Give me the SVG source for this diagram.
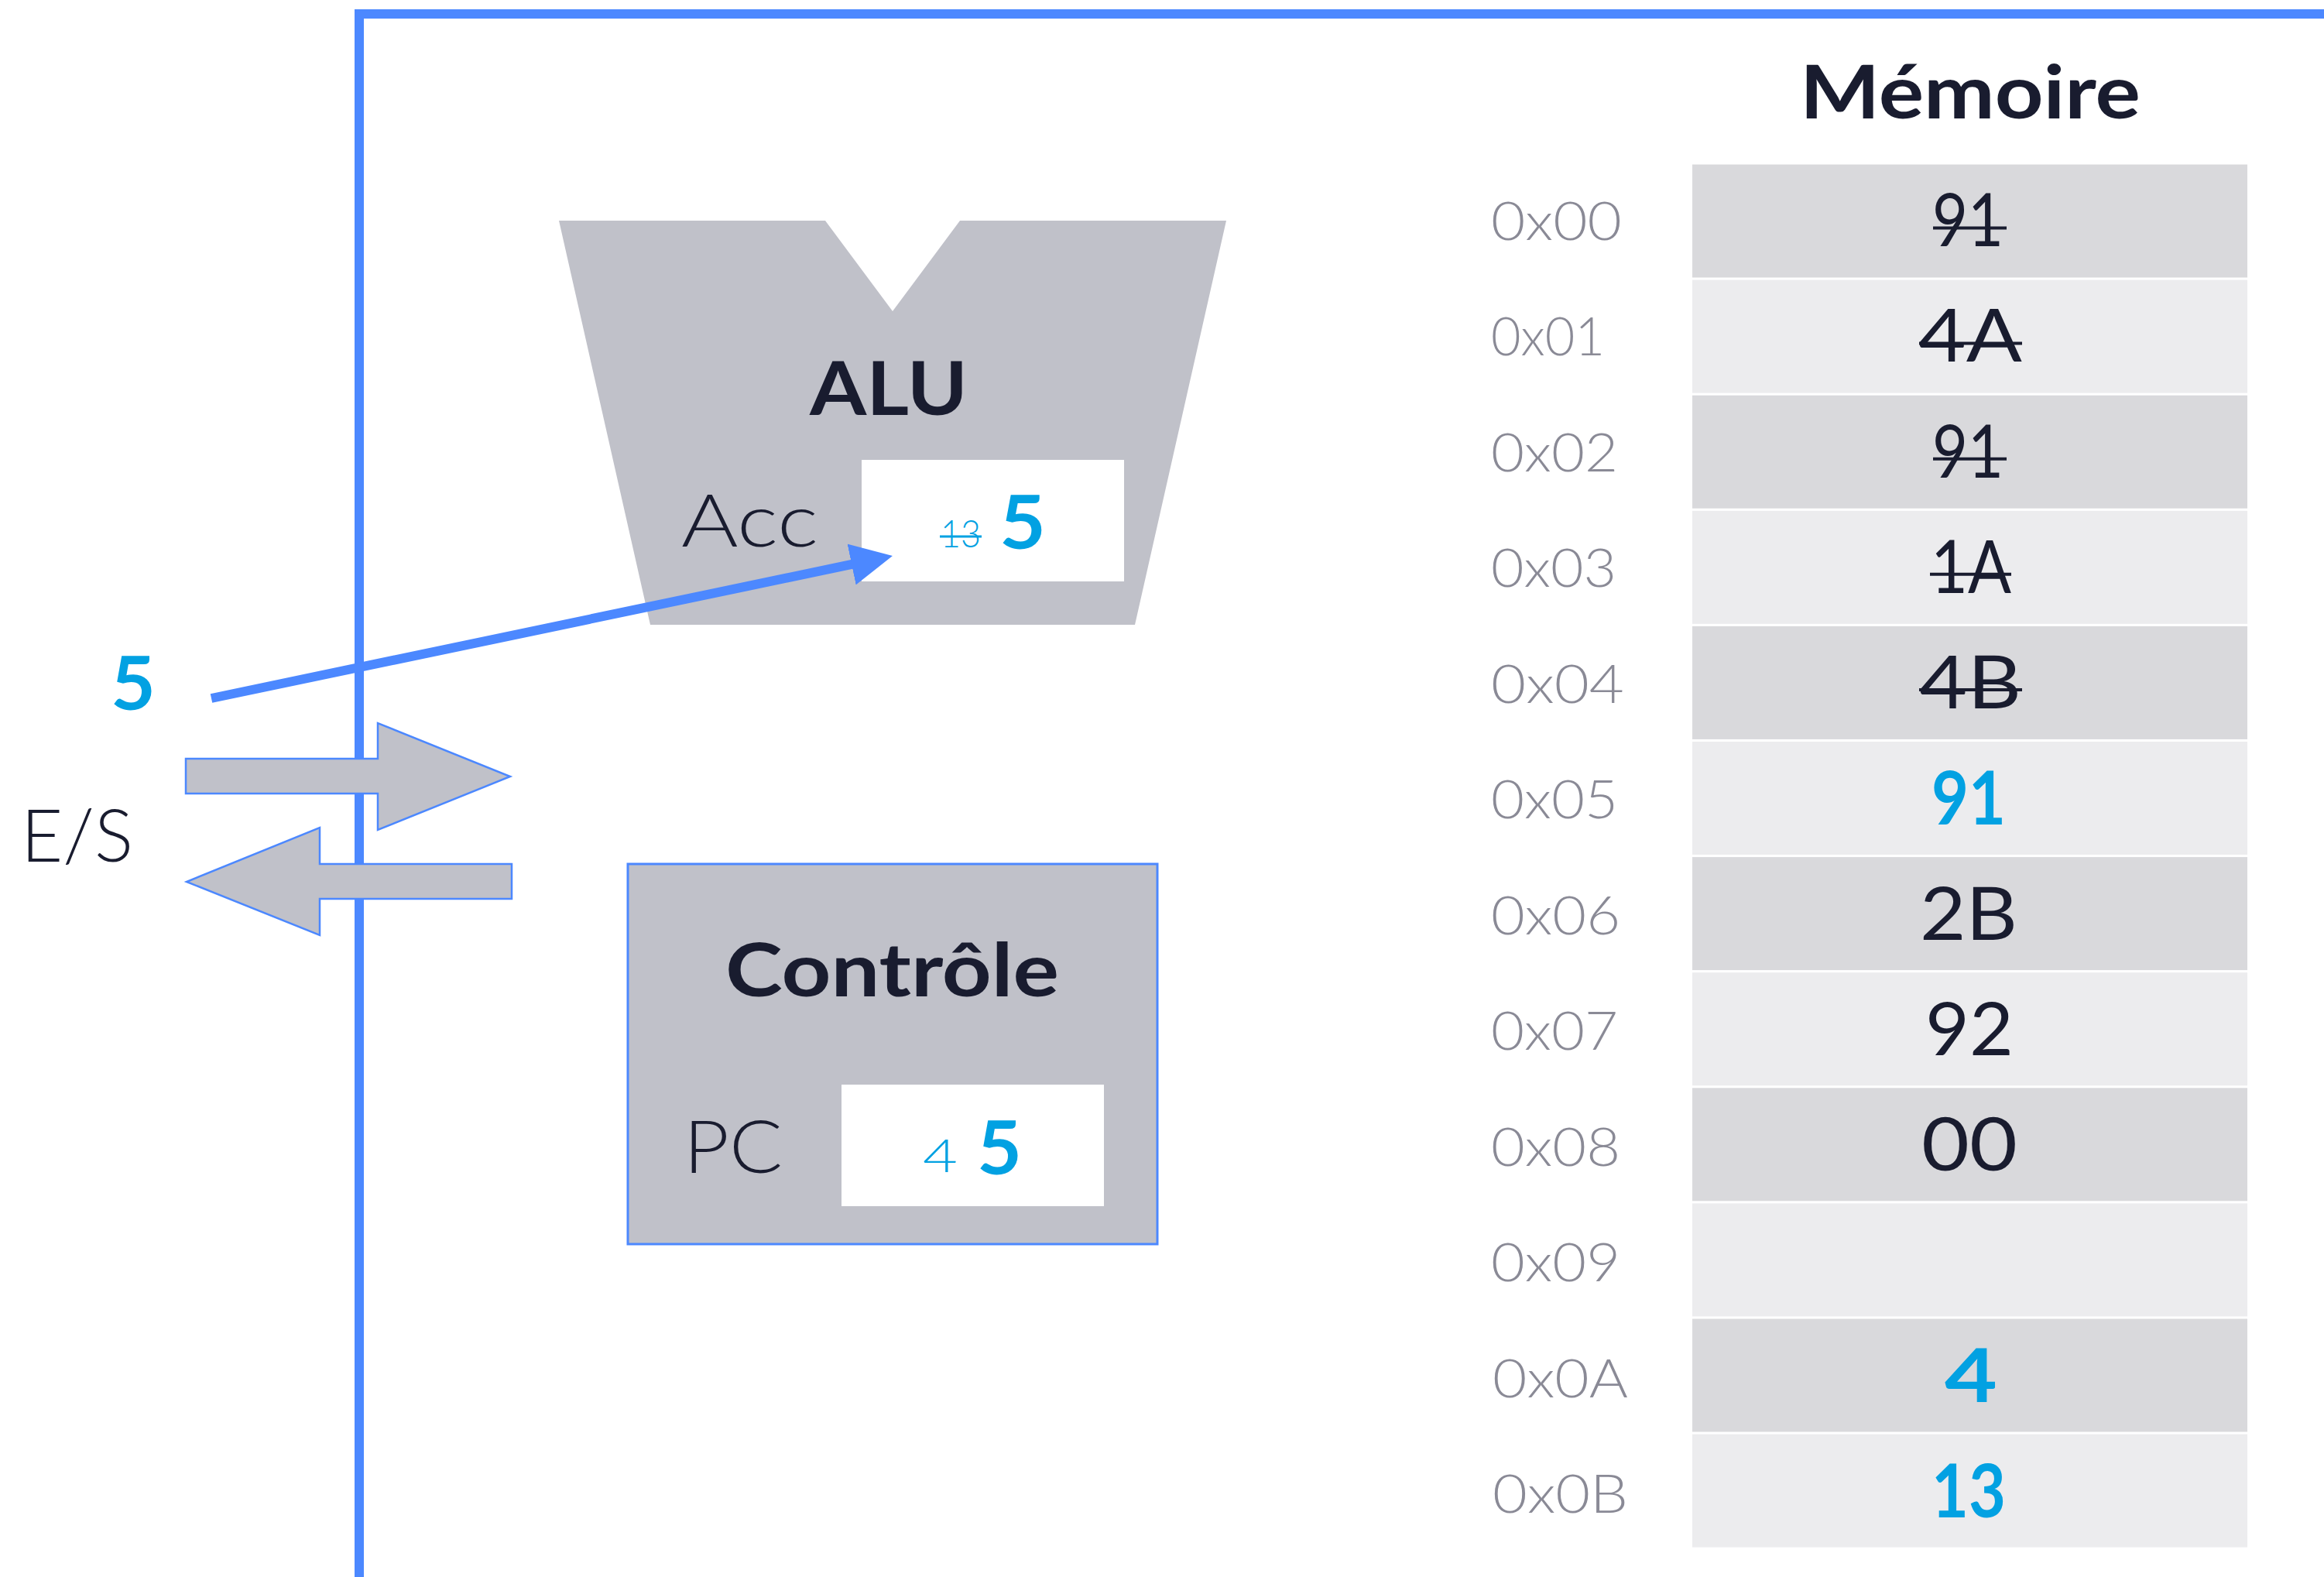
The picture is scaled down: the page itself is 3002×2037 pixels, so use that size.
<svg xmlns="http://www.w3.org/2000/svg" width="3002" height="2037" viewBox="0 0 3002 2037">
<defs>
<style>
text{font-family:Lato,"Noto Sans",sans-serif;}
.title{font-size:96px;font-weight:700;fill:#191c2f;}
.lbl{font-size:95px;font-weight:300;fill:#191c2f;}
.addr{font-size:68px;font-weight:300;fill:#8a8a96;}
.val{font-size:95px;font-weight:400;fill:#191c2f;text-anchor:middle;}
.hl{font-size:95px;font-weight:700;fill:#02a1e2;}
.old{font-weight:300;fill:#02a1e2;}
.rowA{fill:#d9d9dc;}
.rowB{fill:#ececee;}
.unit{fill:#c0c1c9;}
.strike{stroke:#191c2f;stroke-width:4;}
.strikeB{stroke:#02a1e2;stroke-width:3;}
.io{fill:#c0c1c9;stroke:#4c88ff;stroke-width:2.5;}
.wire{stroke:#4c88ff;stroke-width:12;fill:none;}
</style>
<marker id="ah" markerUnits="userSpaceOnUse" viewBox="0 0 54 54" markerWidth="54" markerHeight="54" refX="4" refY="27" orient="auto">
<path d="M0,0 L54,27 L0,54 z" fill="#4c88ff"/>
</marker>
</defs>
<rect width="3002" height="2037" fill="#ffffff"/>

<g id="frame">
<path d="M464 2045 V18 H3010" fill="none" stroke="#4c88ff" stroke-width="12"/>
</g>

<g id="memory">
<text class="title" x="2545" y="153" text-anchor="middle" textLength="440" lengthAdjust="spacingAndGlyphs">Mémoire</text>
<rect class="rowA" x="2186" y="212.5" width="717" height="146"/>
<rect class="rowB" x="2186" y="361.6" width="717" height="146"/>
<rect class="rowA" x="2186" y="510.7" width="717" height="146"/>
<rect class="rowB" x="2186" y="659.8" width="717" height="146"/>
<rect class="rowA" x="2186" y="808.9" width="717" height="146"/>
<rect class="rowB" x="2186" y="958.0" width="717" height="146"/>
<rect class="rowA" x="2186" y="1107.1" width="717" height="146"/>
<rect class="rowB" x="2186" y="1256.2" width="717" height="146"/>
<rect class="rowA" x="2186" y="1405.3" width="717" height="146"/>
<rect class="rowB" x="2186" y="1554.4" width="717" height="146"/>
<rect class="rowA" x="2186" y="1703.5" width="717" height="146"/>
<rect class="rowB" x="2186" y="1852.6" width="717" height="146"/>

<text class="addr" x="1926" y="309.5" textLength="169" lengthAdjust="spacingAndGlyphs">0x00</text>
<text class="addr" x="1926" y="459" textLength="147" lengthAdjust="spacingAndGlyphs">0x01</text>
<text class="addr" x="1926" y="608.5" textLength="164" lengthAdjust="spacingAndGlyphs">0x02</text>
<text class="addr" x="1926" y="758" textLength="162" lengthAdjust="spacingAndGlyphs">0x03</text>
<text class="addr" x="1926" y="907.5" textLength="172" lengthAdjust="spacingAndGlyphs">0x04</text>
<text class="addr" x="1926" y="1057" textLength="164" lengthAdjust="spacingAndGlyphs">0x05</text>
<text class="addr" x="1926" y="1206.5" textLength="167" lengthAdjust="spacingAndGlyphs">0x06</text>
<text class="addr" x="1926" y="1356" textLength="164" lengthAdjust="spacingAndGlyphs">0x07</text>
<text class="addr" x="1926" y="1505.5" textLength="167" lengthAdjust="spacingAndGlyphs">0x08</text>
<text class="addr" x="1926" y="1655" textLength="167" lengthAdjust="spacingAndGlyphs">0x09</text>
<text class="addr" x="1928" y="1804.5" textLength="175" lengthAdjust="spacingAndGlyphs">0x0A</text>
<text class="addr" x="1928" y="1954" textLength="175" lengthAdjust="spacingAndGlyphs">0x0B</text>

<text class="val" x="2542" y="318" textLength="92" lengthAdjust="spacingAndGlyphs">91</text>
<line class="strike" x1="2497" y1="294.5" x2="2592" y2="294.5"/>
<text class="val" x="2545" y="467.3" textLength="134" lengthAdjust="spacingAndGlyphs">4A</text>
<line class="strike" x1="2479" y1="443.6" x2="2612" y2="443.6"/>
<text class="val" x="2542" y="616.6" textLength="92" lengthAdjust="spacingAndGlyphs">91</text>
<line class="strike" x1="2497" y1="592.7" x2="2592" y2="592.7"/>
<text class="val" x="2546" y="765.9" textLength="104" lengthAdjust="spacingAndGlyphs">1A</text>
<line class="strike" x1="2493" y1="741.8" x2="2598" y2="741.8"/>
<text class="val" x="2545" y="915.2" textLength="132" lengthAdjust="spacingAndGlyphs">4B</text>
<line class="strike" x1="2479" y1="890.9" x2="2612" y2="890.9"/>
<text class="val hl" x="2543" y="1064.5" textLength="96" lengthAdjust="spacingAndGlyphs">91</text>
<text class="val" x="2543" y="1213.8" textLength="126" lengthAdjust="spacingAndGlyphs">2B</text>
<text class="val" x="2544" y="1363.1" textLength="114" lengthAdjust="spacingAndGlyphs">92</text>
<text class="val" x="2544" y="1512.4" textLength="124" lengthAdjust="spacingAndGlyphs">00</text>
<text class="val hl" x="2546" y="1811" textLength="68" lengthAdjust="spacingAndGlyphs">4</text>
<text class="val hl" x="2543" y="1960" textLength="96" lengthAdjust="spacingAndGlyphs">13</text>
</g>

<g id="alu">
<polygon class="unit" points="722,285 1066,285 1153,402 1240,285 1584,285 1466,807 840,807"/>
<text class="title" x="1148" y="536" text-anchor="middle" textLength="204" lengthAdjust="spacingAndGlyphs">ALU</text>
<text class="lbl" x="880" y="706" textLength="177" lengthAdjust="spacingAndGlyphs">Acc</text>
<rect x="1113" y="594" width="339" height="157" fill="#ffffff"/>
<text class="old" font-size="49" x="1215" y="707" textLength="52" lengthAdjust="spacingAndGlyphs">13</text>
<line class="strikeB" x1="1214" y1="693" x2="1268" y2="693"/>
<text class="hl" x="1291" y="709" textLength="60" lengthAdjust="spacingAndGlyphs">5</text>
</g>

<g id="controle">
<rect class="unit" x="811" y="1116" width="684" height="491" stroke="#4c88ff" stroke-width="3"/>
<text class="title" x="1152.5" y="1287" text-anchor="middle" textLength="431" lengthAdjust="spacingAndGlyphs">Contrôle</text>
<text class="lbl" x="883" y="1515" textLength="128" lengthAdjust="spacingAndGlyphs">PC</text>
<rect x="1087" y="1401" width="339" height="157" fill="#ffffff"/>
<text class="old" font-size="60" x="1192" y="1514" textLength="45" lengthAdjust="spacingAndGlyphs">4</text>
<text class="hl" x="1262" y="1517" textLength="58" lengthAdjust="spacingAndGlyphs">5</text>
</g>

<g id="io">
<text class="hl" x="143" y="917" textLength="58" lengthAdjust="spacingAndGlyphs">5</text>
<text class="lbl" x="27" y="1113" font-size="94" textLength="145" lengthAdjust="spacingAndGlyphs">E/S</text>
<polygon class="io" points="240,980 488,980 488,934 659,1003 488,1072 488,1025 240,1025"/>
<polygon class="io" points="661,1116 413,1116 413,1069 241,1139 413,1208 413,1161 661,1161"/>
</g>

<g id="connectors">
<path class="wire" d="M273,902 L1104,728.2" marker-end="url(#ah)"/>
</g>
</svg>
